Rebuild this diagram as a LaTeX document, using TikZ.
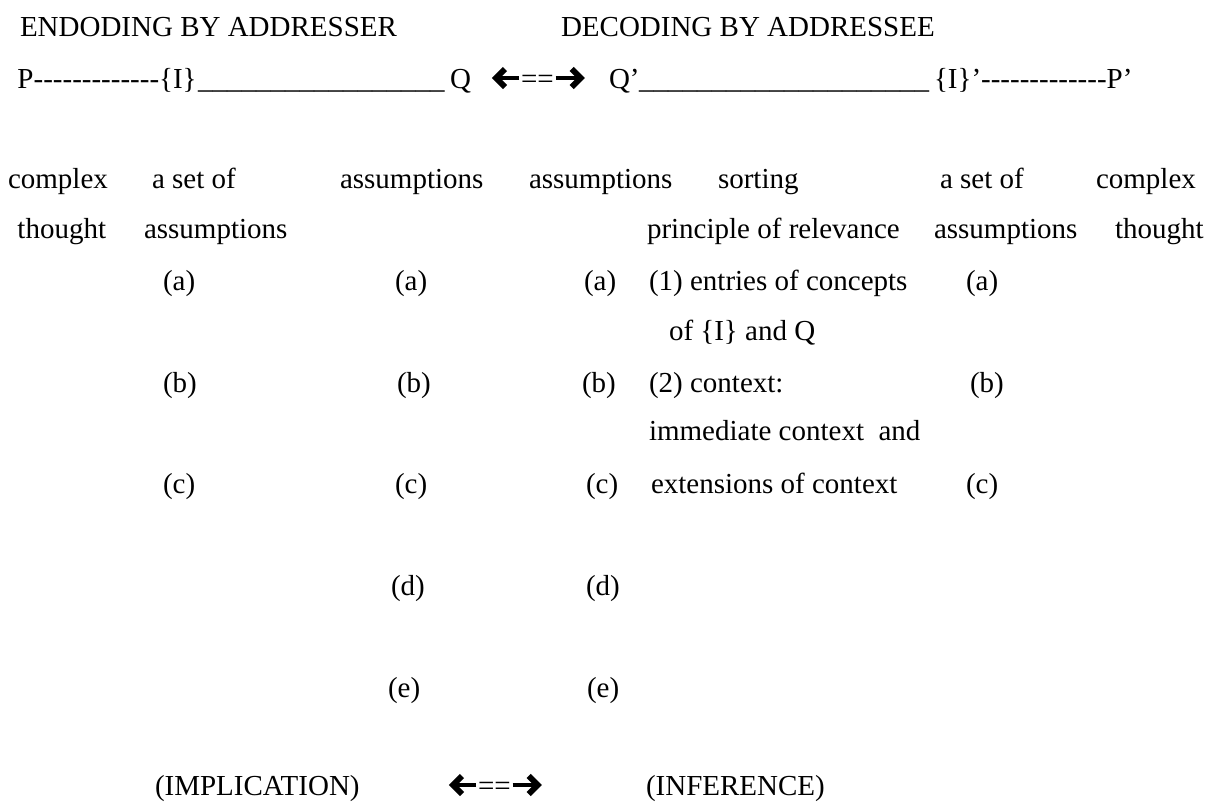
\documentclass[tikz,border=0pt]{standalone}
\usepackage{fontspec}
\setmainfont{Liberation Serif}
\newcommand\hy{-\kern0pt}
\newcommand\myreps[2]{\foreach \i in {1,...,#1}{#2}}
\tikzset{
  txt/.style={anchor=base west, inner sep=0pt, outer sep=0pt, font=\fontsize{12pt}{14pt}\selectfont},
  fatline/.style={line width=1.8pt, line cap=butt, line join=miter},
  fathead/.style={line width=2.4pt, line cap=butt, line join=miter, miter limit=10}
}
\newcommand\leftarrowhead[1]{%
  \draw[fatline] (#1.base west) ++(-2,-10) -- ++(-22,0);
  \draw[fathead] (#1.base west) ++(-16,-19) -- ++(-9,9) -- ++(9,9);}
\newcommand\rightarrowhead[1]{%
  \draw[fatline] (#1.base east) ++(2,-10) -- ++(22,0);
  \draw[fathead] (#1.base east) ++(18,-19) -- ++(9,9) -- ++(-9,9);}
\begin{document}
\begin{tikzpicture}[x=0.41379pt, y=-0.41379pt]
\fill[white] (0,0) rectangle (1217,802);
\useasboundingbox (0,0) rectangle (1217,802);
% titles
\node[txt] (enc) at (20,36) {ENDODING BY ADDRESSER};
\node[txt] (dec) at (561,36) {DECODING BY ADDRESSEE};
% P line
\node[txt] (pI) at (17.5,88) {P\myreps{13}{\hy}\{I\}};
\node[txt] (u1) at (198,88) {\myreps{17}{\_}};
\node[txt] (q) at (450,88) {Q};
\node[txt] (eqa) at (521,88) {==};
\leftarrowhead{eqa}
\rightarrowhead{eqa}
\node[txt] (qp) at (609,88) {Q’};
\node[txt] (u2) at (639,88) {\myreps{20}{\_}};
\node[txt] (Ip) at (934,88) {\{I\}’\myreps{13}{\hy}P’};
% row 1
\node[txt] (c1) at (8,188) {complex};
\node[txt] (s1) at (152,188) {a set of};
\node[txt] (as1) at (340,188) {assumptions};
\node[txt] (as2) at (529,188) {assumptions};
\node[txt] (so) at (718,188) {sorting};
\node[txt] (s2) at (940,188) {a set of};
\node[txt] (c2) at (1096,188) {complex};
% row 2
\node[txt] (th1) at (17.5,238) {thought};
\node[txt] (as3) at (144,238) {assumptions};
\node[txt] (pr) at (647,238) {principle of relevance};
\node[txt] (as4) at (934,238) {assumptions};
\node[txt] (th2) at (1115,238) {thought};
% (a)
\node[txt] (a1) at (163,290) {(a)};
\node[txt] (a2) at (395,290) {(a)};
\node[txt] (a3) at (584,290) {(a)};
\node[txt] (e1) at (649,290) {(1) entries of concepts};
\node[txt] (a4) at (966,290) {(a)};
\node[txt] (e2) at (669,340) {of \{I\} and Q};
% (b)
\node[txt] (b1) at (163,392) {(b)};
\node[txt] (b2) at (397,392) {(b)};
\node[txt] (b3) at (582,392) {(b)};
\node[txt] (k1) at (649,392) {(2) context:};
\node[txt] (b4) at (970,392) {(b)};
\node[txt] (k2) at (649,440) {immediate context\ \ and};
% (c)
\node[txt] (cc1) at (163,493) {(c)};
\node[txt] (cc2) at (395,493) {(c)};
\node[txt] (cc3) at (586,493) {(c)};
\node[txt] (k3) at (651,493) {extensions of context};
\node[txt] (cc4) at (966,493) {(c)};
% (d), (e)
\node[txt] (d1) at (391,595) {(d)};
\node[txt] (d2) at (586,595) {(d)};
\node[txt] (ee1) at (388,697) {(e)};
\node[txt] (ee2) at (587,697) {(e)};
% bottom
\node[txt] (imp) at (155,795) {(IMPLICATION)};
\node[txt] (eqb) at (478,795) {==};
\leftarrowhead{eqb}
\rightarrowhead{eqb}
\node[txt] (inf) at (646,795) {(INFERENCE)};
\end{tikzpicture}
\end{document}
